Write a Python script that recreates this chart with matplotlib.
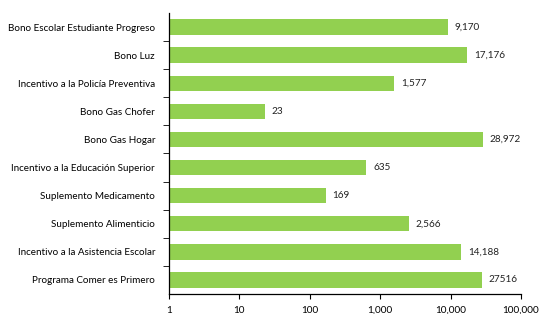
import matplotlib.pyplot as plt

plt.rcParams['font.family'] = ['Lato', 'DejaVu Sans']

programas = ["Bono Escolar Estudiante Progreso", "Bono Luz",
             "Incentivo a la Policía Preventiva", "Bono Gas Chofer",
             "Bono Gas Hogar", "Incentivo a la Educación Superior",
             "Suplemento Medicamento", "Suplemento Alimenticio",
             "Incentivo a la Asistencia Escolar", "Programa Comer es Primero"]
valores = [9170, 17176, 1577, 23, 28972, 635, 169, 2566, 14188, 27516]
etiquetas = ["9,170", "17,176", "1,577", "23", "28,972", "635", "169",
             "2,566", "14,188", "27516"]
xticks = [1, 10, 100, 1000, 10000, 100000]
xticklabels = ["1", "10", "100", "1,000", "10,000", "100,000"]

fig = plt.figure(figsize=(5.39, 3.14), dpi=100)
ax = fig.add_axes([169 / 539, 20 / 314, (521 - 169) / 539, (294 - 13) / 314])

pos = list(range(len(programas)))
ax.barh(pos, valores, height=0.55, color='#92D050', edgecolor='none')
for p, v, t in zip(pos, valores, etiquetas):
    ax.text(v * 1.25, p, t, va='center', ha='left', fontsize=7.2, color='#222222')

ax.set_xscale('log')
ax.set_xlim(1, 100000)
ax.set_ylim(len(programas) - 0.5, -0.5)
ax.set_xticks(xticks)
ax.set_xticklabels(xticklabels, fontsize=7.2)
ax.minorticks_off()
ax.set_yticks(pos)
ax.set_yticklabels(programas, fontsize=7.1)
ax.tick_params(axis='y', length=0, pad=10)
ax.set_yticks([p + 0.5 for p in pos[:-1]], minor=True)
ax.tick_params(axis='y', which='minor', length=4, color='black')
ax.tick_params(axis='x', length=3.5, color='black', pad=5)

for s in ['top', 'right']:
    ax.spines[s].set_visible(False)
for s in ['left', 'bottom']:
    ax.spines[s].set_color('black')
    ax.spines[s].set_linewidth(0.9)

plt.savefig('out.png', dpi=100)
